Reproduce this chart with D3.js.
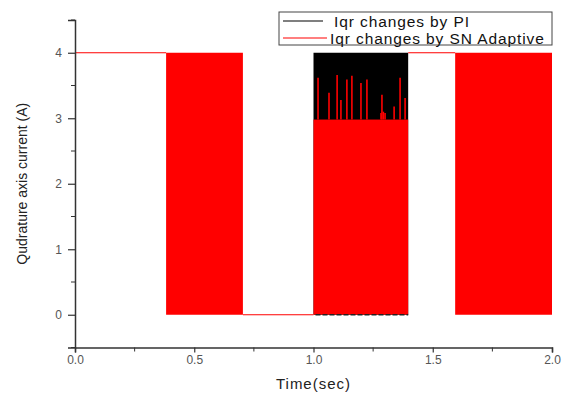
<!DOCTYPE html>
<html>
<head>
<meta charset="utf-8">
<script src="https://cdn.jsdelivr.net/npm/d3@7"></script>
<style>
  body { margin: 0; background: #fff; }
  text { font-family: "Liberation Sans", Arial, sans-serif; }
</style>
</head>
<body>
<div id="chart-area"></div>
<script>
// Tick values
var xTicks = [0, 0.5, 1.0, 1.5, 2.0];
var xMinorTicks = [0.25, 0.75, 1.25, 1.75];
var yTicks = [0, 1, 2, 3, 4];
var yMinorTicks = [-0.5, 0.5, 1.5, 2.5, 3.5, 4.5];

// SN Adaptive (red): flat segments [start, end, level]
var redFlatStart = [0, 0.704, 1.397];
var redFlatEnd = [0.382, 1.0, 1.594];
var redFlatLevel = [4, 0, 4];

// SN Adaptive (red): fast switching bands, envelope low..high
var redBandStart = [0.382, 1.0, 1.594];
var redBandEnd = [0.704, 1.397, 2.0];
var redBandLow = [0, 0, 0];
var redBandHigh = [4, 2.98, 4];

// PI (black): switching band between 1.0 and 1.4 s
var piBandStart = [1.0];
var piBandEnd = [1.397];
var piBandLow = [0];
var piBandHigh = [4];

// red spikes above the 3 A envelope inside the PI band
var spikeTimes = [1.019, 1.065, 1.099, 1.115, 1.140, 1.161, 1.199, 1.224, 1.283, 1.287, 1.293, 1.300, 1.338, 1.363, 1.384];
var spikePeaks = [3.62, 3.39, 3.66, 3.28, 3.59, 3.65, 3.54, 3.59, 3.08, 3.36, 3.10, 3.08, 3.18, 3.62, 3.31];

// Legend
var legendLabels = ["Iqr changes by PI", "Iqr changes by SN Adaptive"];
var legendColors = ["#000000", "#ff0000"];

var W = 562, H = 394;
var margin = { left: 75, right: 10, top: 20, bottom: 46.5 };
var width = W - margin.left - margin.right,
    height = H - margin.top - margin.bottom;

var svg = d3.select("#chart-area")
    .append("svg")
        .attr("width", W)
        .attr("height", H);

var g = svg.append("g")
    .attr("transform", "translate(" + margin.left + ", " + margin.top + ")");

// Scales
var x = d3.scaleLinear().domain([0, 2]).range([0, width]);
var y = d3.scaleLinear().domain([-0.5, 4.5]).range([height, 0]);

var red = "#ff0000";

// PI band (black) first, red drawn on top
piBandStart.forEach(function(s, i) {
    g.append("rect")
        .attr("x", x(s))
        .attr("y", y(piBandHigh[i]))
        .attr("width", x(piBandEnd[i]) - x(s))
        .attr("height", y(piBandLow[i]) - y(piBandHigh[i]))
        .attr("fill", "#000");
});

// Red switching bands
redBandStart.forEach(function(s, i) {
    g.append("rect")
        .attr("x", x(s))
        .attr("y", y(redBandHigh[i]))
        .attr("width", x(redBandEnd[i]) - x(s))
        .attr("height", y(redBandLow[i]) - y(redBandHigh[i]))
        .attr("fill", red);
});

// Red spikes
spikeTimes.forEach(function(t, i) {
    g.append("line")
        .attr("x1", x(t)).attr("x2", x(t))
        .attr("y1", y(2.98)).attr("y2", y(spikePeaks[i]))
        .attr("stroke", red)
        .attr("stroke-width", 1.6);
});

// PI trace sitting on the zero line inside its band
piBandStart.forEach(function(s, i) {
    g.append("line")
        .attr("x1", x(s) + 2).attr("x2", x(piBandEnd[i]))
        .attr("y1", y(0)).attr("y2", y(0))
        .attr("stroke", "#222")
        .attr("stroke-width", 1.5)
        .attr("stroke-dasharray", "5,2");
});

// Red flat segments
redFlatStart.forEach(function(s, i) {
    g.append("line")
        .attr("x1", x(s)).attr("x2", x(redFlatEnd[i]))
        .attr("y1", y(redFlatLevel[i])).attr("y2", y(redFlatLevel[i]))
        .attr("stroke", red)
        .attr("stroke-width", 1.2);
});

// X axis
var xAxisGroup = g.append("g")
    .attr("transform", "translate(0," + height + ")");
xAxisGroup.call(d3.axisBottom(x).tickValues(xTicks)
    .tickFormat(d3.format(".1f")).tickSize(5).tickPadding(3));
xAxisGroup.selectAll(".minor")
    .data(xMinorTicks).enter()
    .append("line")
        .attr("x1", function(d) { return x(d); })
        .attr("x2", function(d) { return x(d); })
        .attr("y1", 0).attr("y2", 4)
        .attr("stroke", "#333");

// Y axis
var yAxisGroup = g.append("g");
yAxisGroup.call(d3.axisLeft(y).tickValues(yTicks)
    .tickFormat(d3.format("d")).tickSize(7).tickPadding(6));
yAxisGroup.selectAll(".minor")
    .data(yMinorTicks).enter()
    .append("line")
        .attr("y1", function(d) { return y(d); })
        .attr("y2", function(d) { return y(d); })
        .attr("x1", 0).attr("x2", -4)
        .attr("stroke", "#333");

g.selectAll(".domain").attr("stroke", "#333").attr("stroke-width", 1.5);
g.selectAll(".tick line").attr("stroke", "#333").attr("stroke-width", 1.2);
g.selectAll(".tick text")
    .attr("fill", "#555")
    .attr("font-size", "12px")
    .attr("font-family", "'Liberation Sans', Arial, sans-serif");

// X Label
g.append("text")
    .attr("x", width / 2)
    .attr("y", height + 41)
    .attr("font-size", "15px")
    .attr("letter-spacing", "1px")
    .attr("text-anchor", "middle")
    .attr("fill", "#222")
    .text("Time(sec)");

// Y Label
g.append("text")
    .attr("x", -(y(2) ))
    .attr("y", -48)
    .attr("font-size", "14px")
    .attr("text-anchor", "middle")
    .attr("transform", "rotate(-90)")
    .attr("fill", "#222")
    .text("Qudrature axis current (A)");

// Legend
var legend = svg.append("g");
legend.append("rect")
    .attr("x", 279).attr("y", 12)
    .attr("width", 273).attr("height", 33)
    .attr("fill", "#fff")
    .attr("stroke", "#444")
    .attr("stroke-width", 1);

var lineEnds = [323, 327];
var textStarts = [334, 330];
var rowY = [21, 38];
legendLabels.forEach(function(label, i) {
    legend.append("line")
        .attr("x1", 283).attr("x2", lineEnds[i])
        .attr("y1", rowY[i]).attr("y2", rowY[i])
        .attr("stroke", legendColors[i])
        .attr("stroke-width", 1.2);
    legend.append("text")
        .attr("x", textStarts[i])
        .attr("y", rowY[i] + 5.5)
        .attr("font-size", "15.5px")
        .attr("letter-spacing", "0.9px")
        .attr("fill", "#111")
        .text(label);
});
</script>
</body>
</html>
